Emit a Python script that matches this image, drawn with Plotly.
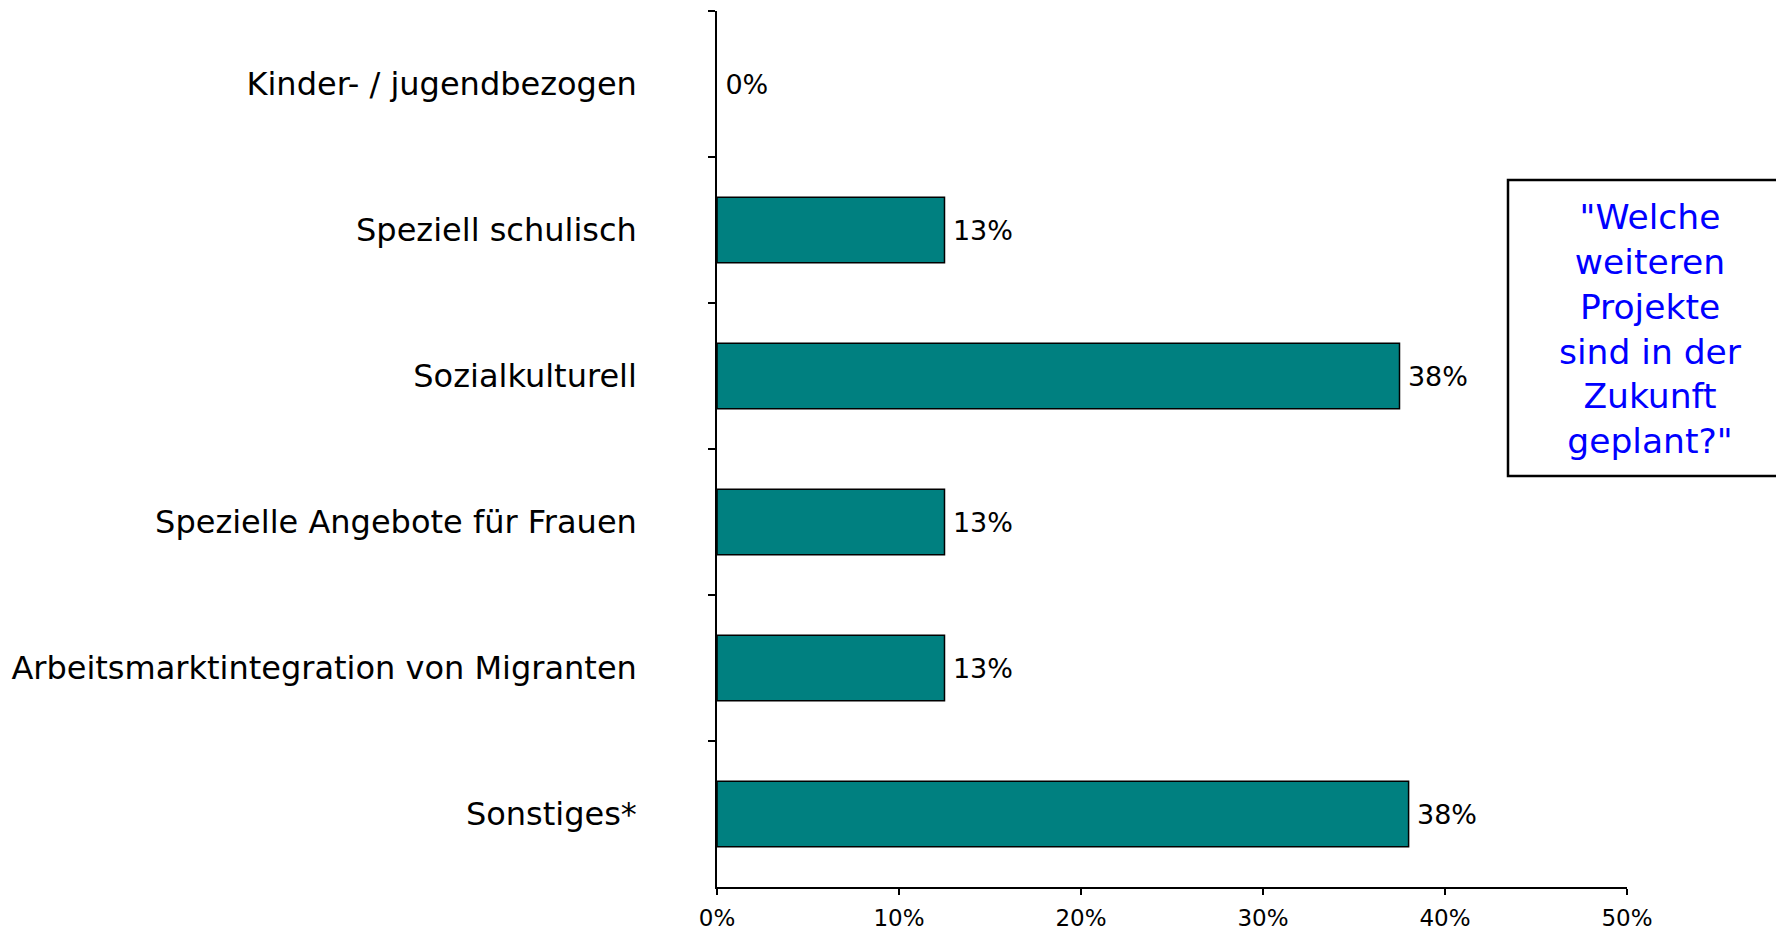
import plotly.graph_objects as go

categories = [
    "Kinder- / jugendbezogen",
    "Speziell schulisch",
    "Sozialkulturell",
    "Spezielle Angebote für Frauen",
    "Arbeitsmarktintegration von Migranten",
    "Sonstiges*",
]
values = [0.0, 12.5, 37.5, 12.5, 12.5, 38.0]
value_labels = ["0%", "13%", "38%", "13%", "13%", "38%"]
x_ticks = [0, 10, 20, 30, 40, 50]
x_tick_labels = ["0%", "10%", "20%", "30%", "40%", "50%"]
box_text = '"Welche<br>weiteren<br>Projekte<br>sind in der<br>Zukunft<br>geplant?"'

FONT = "DejaVu Sans, Verdana, sans-serif"

fig = go.Figure(
    go.Bar(
        x=values,
        y=categories,
        orientation="h",
        text=value_labels,
        texttemplate="\u2009%{text}",
        textposition="outside",
        cliponaxis=False,
        textfont=dict(family=FONT, size=27, color="black"),
        marker=dict(
            color="#008080",
            line=dict(color="black", width=[0 if v == 0 else 1.5 for v in values]),
        ),
        hoverinfo="skip",
    )
)

# page body has an 8px margin, so figure coordinates are page coordinates - 8
OFF = 8
W, H = 1784, 931 - OFF
left, right, top, bottom = 717 - OFF, 1627 - OFF, 11 - OFF, 887 - OFF

fig.update_layout(
    width=W,
    height=H,
    margin=dict(l=left, r=W - right, t=top, b=H - bottom, pad=0, autoexpand=False),
    paper_bgcolor="white",
    plot_bgcolor="white",
    bargap=0.55,
    showlegend=False,
    font=dict(family=FONT, color="black"),
)

fig.update_xaxes(
    range=[0, 50],
    tickvals=x_ticks,
    ticktext=x_tick_labels,
    ticks="outside",
    ticklen=6,
    tickwidth=1.5,
    tickcolor="black",
    showline=True,
    linecolor="black",
    linewidth=1.5,
    showgrid=False,
    zeroline=False,
    automargin=False,
    ticklabelstandoff=4,
    tickfont=dict(family=FONT, size=23, color="black"),
    fixedrange=True,
)

fig.update_yaxes(
    type="category",
    categoryorder="array",
    categoryarray=categories,
    autorange="reversed",
    tickson="boundaries",
    ticks="outside",
    ticklen=7,
    tickwidth=1.5,
    tickcolor="black",
    showline=True,
    linecolor="black",
    linewidth=1.5,
    showgrid=False,
    zeroline=False,
    automargin=False,
    ticklabelstandoff=72,
    tickfont=dict(family=FONT, size=32, color="black"),
    fixedrange=True,
)

def px_x(page_x):
    return (page_x - OFF - left) / (right - left)

def px_y(page_y):
    return (bottom - (page_y - OFF)) / (bottom - top)

# framed question box (extends past the right edge of the page, as in the reference)
fig.add_shape(
    type="rect",
    xref="paper",
    yref="paper",
    x0=px_x(1508),
    x1=px_x(1830),
    y0=px_y(476),
    y1=px_y(180),
    line=dict(color="black", width=2.5),
    fillcolor="white",
    layer="above",
)
fig.add_annotation(
    x=px_x(1650),
    y=px_y(328.5),
    xref="paper",
    yref="paper",
    xanchor="center",
    yanchor="middle",
    text=box_text,
    showarrow=False,
    align="center",
    font=dict(family=FONT, size=34.5, color="#0000FF"),
)

fig.write_html("out.html")
